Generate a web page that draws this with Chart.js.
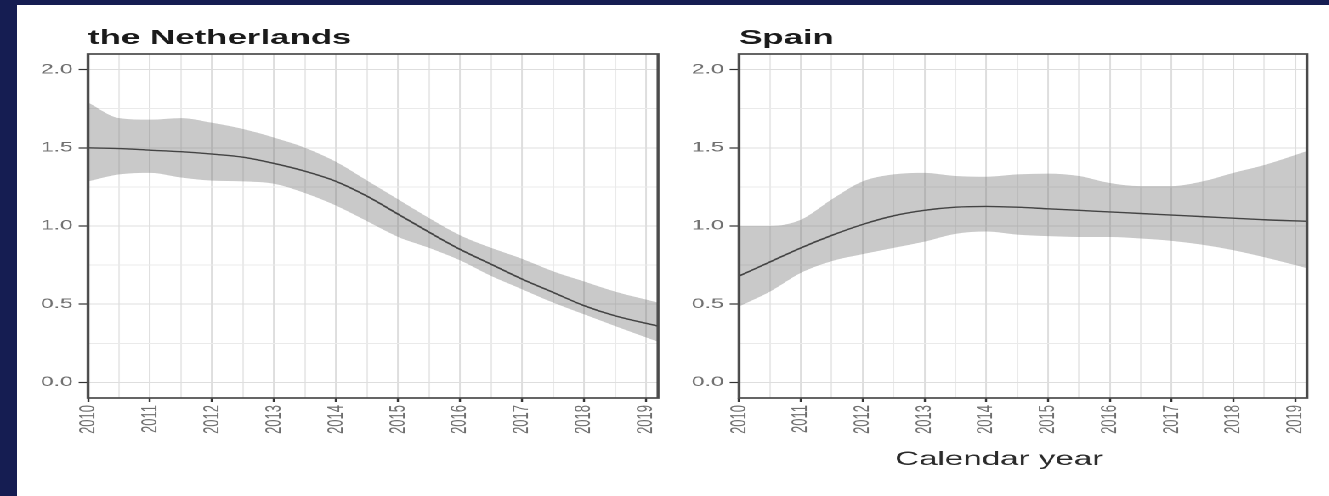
<!DOCTYPE html>
<html>
<head>
<meta charset="utf-8">
<script src="https://cdn.jsdelivr.net/npm/chart.js@4"></script>
<style>
  html, body { margin: 0; padding: 0; width: 1329px; height: 496px; overflow: hidden; background: #151d52; }
  #sheet { position: absolute; left: 17px; top: 5px; width: 1312px; height: 491px; background: #ffffff; }
  /* the figure is laid out narrow and widened horizontally */
  #stretch { position: absolute; left: 0; top: 0; width: 781.76px; height: 496px; transform: scaleX(1.7); transform-origin: 0 0; }
  #stretch canvas { position: absolute; top: 0; }
</style>
</head>
<body>
<div id="sheet"></div>
<div id="stretch">
  <canvas id="nl" width="390" height="496" style="left:10px"></canvas>
  <canvas id="es" width="382" height="496" style="left:400px"></canvas>
</div>
<script>
// Calendar time (years) at which the smoothed curves are sampled
const years = [2010, 2010.5, 2011, 2011.5, 2012, 2012.5, 2013, 2013.5, 2014, 2014.5,
               2015, 2015.5, 2016, 2016.5, 2017, 2017.5, 2018, 2018.5, 2019.19];

// the Netherlands: estimate with lower / upper confidence limits
const nlMid   = [1.50, 1.495, 1.485, 1.475, 1.46, 1.44, 1.40, 1.35, 1.285, 1.19,
                 1.075, 0.96, 0.85, 0.755, 0.66, 0.575, 0.49, 0.425, 0.36];
const nlLower = [1.285, 1.33, 1.34, 1.31, 1.29, 1.285, 1.27, 1.21, 1.13, 1.03,
                 0.93, 0.86, 0.78, 0.68, 0.595, 0.51, 0.435, 0.36, 0.26];
const nlUpper = [1.79, 1.69, 1.68, 1.69, 1.66, 1.62, 1.565, 1.50, 1.41, 1.29,
                 1.17, 1.05, 0.94, 0.86, 0.79, 0.71, 0.645, 0.58, 0.51];

// Spain: estimate with lower / upper confidence limits
const esMid   = [0.68, 0.77, 0.86, 0.94, 1.01, 1.065, 1.10, 1.12, 1.125, 1.12,
                 1.11, 1.10, 1.09, 1.08, 1.07, 1.06, 1.05, 1.04, 1.03];
const esLower = [0.485, 0.58, 0.70, 0.775, 0.82, 0.86, 0.90, 0.95, 0.965, 0.945,
                 0.935, 0.93, 0.93, 0.92, 0.905, 0.88, 0.845, 0.80, 0.73];
const esUpper = [1.00, 1.00, 1.04, 1.17, 1.285, 1.33, 1.34, 1.32, 1.315, 1.33,
                 1.335, 1.32, 1.275, 1.255, 1.255, 1.285, 1.34, 1.39, 1.48];

// Axis ticks: labelled years plus half-year grid, y labelled every 0.5 with 0.25 grid
const yearTicks = [2010, 2011, 2012, 2013, 2014, 2015, 2016, 2017, 2018, 2019];
const xGridTicks = [2010, 2010.5, 2011, 2011.5, 2012, 2012.5, 2013, 2013.5, 2014, 2014.5,
                    2015, 2015.5, 2016, 2016.5, 2017, 2017.5, 2018, 2018.5, 2019];
const yGridTicks = [0, 0.25, 0.5, 0.75, 1.0, 1.25, 1.5, 1.75, 2.0];
const yLabelTicks = [0, 0.5, 1.0, 1.5, 2.0];

const X_MIN = 2010, X_MAX = 2019.19;
const Y_MIN = -0.1, Y_MAX = 2.1;

const FONT = '"Liberation Sans", Arial, Helvetica, sans-serif';
const isYear = v => yearTicks.includes(v);
const isYLabel = v => yLabelTicks.some(t => Math.abs(t - v) < 1e-9);

// Panel box around the plotting region
const framePlugin = {
  id: 'frame',
  afterDatasetsDraw(chart) {
    const { ctx, chartArea: a } = chart;
    ctx.save();
    ctx.strokeStyle = '#4a4a4a';
    ctx.lineWidth = 1.7;
    ctx.strokeRect(a.left, a.top, a.right - a.left, a.bottom - a.top);
    ctx.restore();
  }
};

// Panel title above the box, optional axis title under the year labels
const panelTextPlugin = {
  id: 'panelText',
  afterDraw(chart, args, o) {
    const { ctx, chartArea: a } = chart;
    ctx.save();
    ctx.textBaseline = 'alphabetic';
    ctx.fillStyle = '#1a1a1a';
    ctx.font = 'bold 20.5px ' + FONT;
    ctx.textAlign = 'left';
    ctx.fillText(o.title, a.left, a.top - 10);
    if (o.xTitle) {
      ctx.fillStyle = '#2a2a2a';
      ctx.font = '19.5px ' + FONT;
      ctx.textAlign = 'center';
      ctx.fillText(o.xTitle, (a.left + a.right) / 2 + o.xTitleShift, a.bottom + 67);
    }
    ctx.restore();
  }
};

function toPoints(xs, ys) {
  return xs.map((x, i) => ({ x: x, y: ys[i] }));
}

function makePanel(id, title, lower, mid, upper, yAxisWidth, padRight, xTitle) {
  return new Chart(document.getElementById(id), {
    type: 'line',
    data: {
      datasets: [
        { data: toPoints(years, lower), borderWidth: 0, pointRadius: 0, fill: false },
        { data: toPoints(years, upper), borderWidth: 0, pointRadius: 0, fill: '-1',
          backgroundColor: 'rgba(115,115,115,0.39)' },
        { data: toPoints(years, mid), borderWidth: 1.4, borderColor: '#262626',
          pointRadius: 0, fill: false }
      ]
    },
    options: {
      responsive: false,
      animation: false,
      devicePixelRatio: 2,
      events: [],
      layout: { padding: { top: 54, right: padRight, bottom: 0, left: 0 } },
      elements: { line: { cubicInterpolationMode: 'monotone' } },
      plugins: {
        legend: { display: false },
        tooltip: { enabled: false },
        panelText: { title: title, xTitle: xTitle, xTitleShift: -14 }
      },
      scales: {
        x: {
          type: 'linear',
          min: X_MIN,
          max: X_MAX,
          afterBuildTicks: s => { s.ticks = xGridTicks.map(v => ({ value: v })); },
          afterFit: s => { s.height = 98; },
          ticks: {
            autoSkip: false,
            minRotation: 90,
            maxRotation: 90,
            padding: 3,
            color: '#6e6e6e',
            font: { family: FONT, size: 13 },
            callback: v => (isYear(v) ? String(v) : '')
          },
          grid: {
            color: c => (c.tick && isYear(c.tick.value) ? '#dedede' : '#eaeaea'),
            lineWidth: 1,
            tickLength: 4,
            tickWidth: 1.2,
            tickColor: c => (c.tick && isYear(c.tick.value) ? '#333333' : 'rgba(0,0,0,0)')
          },
          border: { display: false }
        },
        y: {
          type: 'linear',
          min: Y_MIN,
          max: Y_MAX,
          afterBuildTicks: s => { s.ticks = yGridTicks.map(v => ({ value: v })); },
          afterFit: s => { s.width = yAxisWidth; },
          ticks: {
            autoSkip: false,
            padding: 3.5,
            color: '#6e6e6e',
            font: { family: FONT, size: 13.5 },
            callback: v => (isYLabel(v) ? v.toFixed(1) : '')
          },
          grid: {
            color: c => (c.tick && isYLabel(c.tick.value) ? '#dedede' : '#eaeaea'),
            lineWidth: 1,
            tickLength: 5.5,
            tickWidth: 1.2,
            tickColor: c => (c.tick && isYLabel(c.tick.value) ? '#333333' : 'rgba(0,0,0,0)')
          },
          border: { display: false }
        }
      }
    },
    plugins: [framePlugin, panelTextPlugin]
  });
}

makePanel('nl', 'the Netherlands', nlLower, nlMid, nlUpper, 41.76, 12.94, null);
makePanel('es', 'Spain', esLower, esMid, esUpper, 34.7, 13.2, 'Calendar year');
</script>
</body>
</html>
